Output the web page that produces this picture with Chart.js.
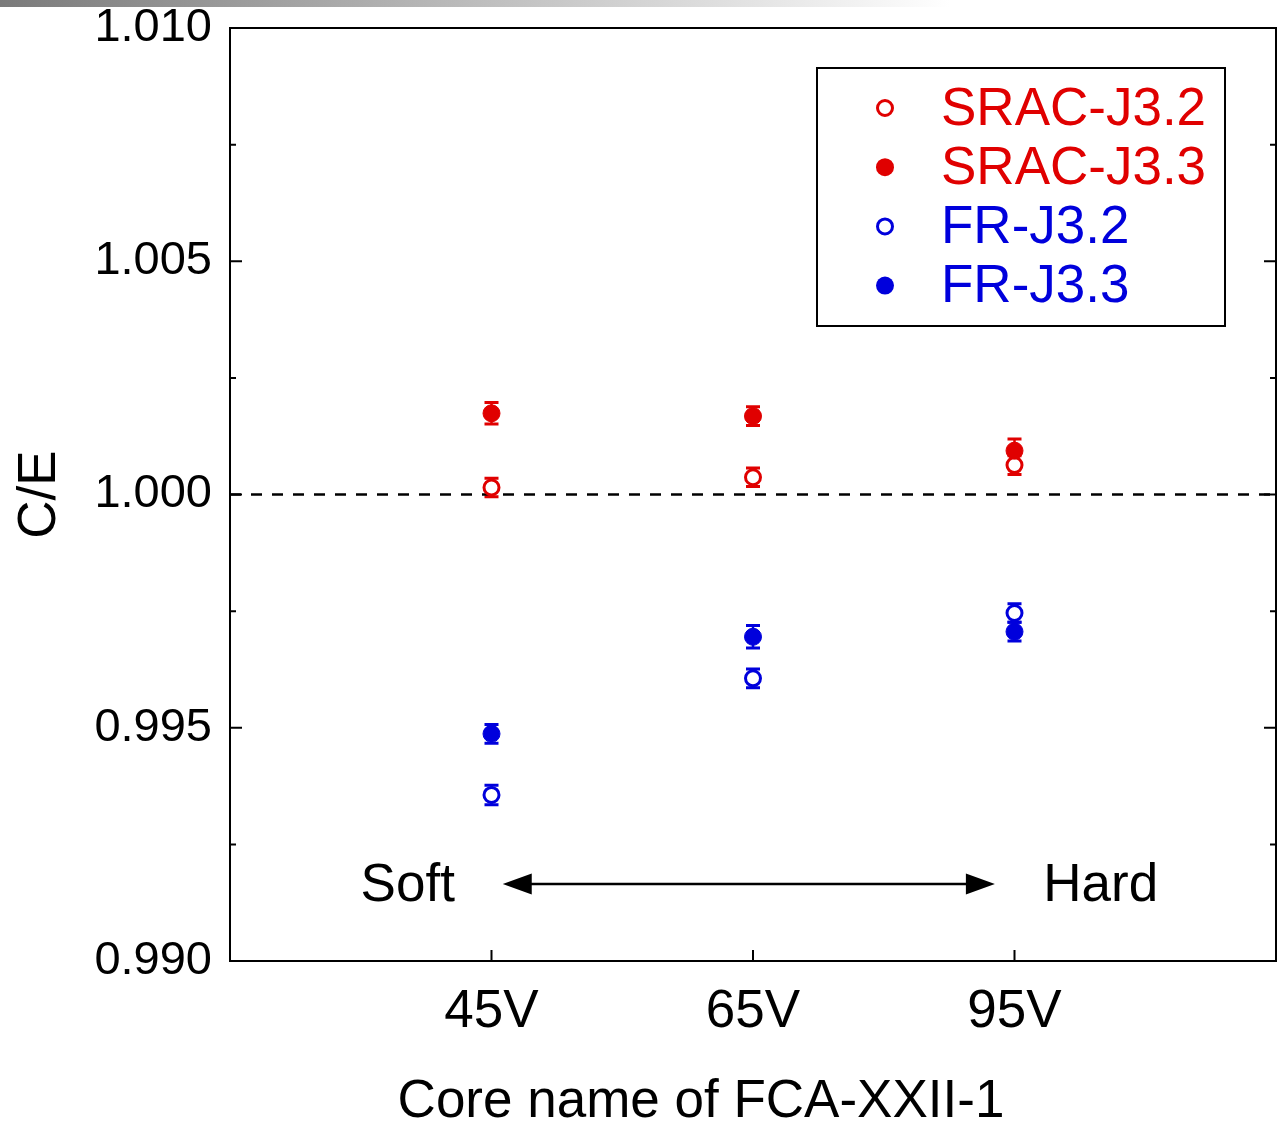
<!DOCTYPE html>
<html>
<head>
<meta charset="utf-8">
<script src="https://cdn.jsdelivr.net/npm/chart.js@4"></script>
<style>
  body { margin: 0; background: #fff; }
  #wrap { width: 1283px; height: 1123px; }
</style>
</head>
<body>
<div id="wrap"><canvas id="myChart" width="1283" height="1123"></canvas></div>
<script>
const FONT = "'Liberation Sans', Arial, sans-serif";
const RED = 'rgb(224,0,0)';
const BLUE = 'rgb(0,0,220)';

// categories on the x axis
const categories = ['45V', '65V', '95V'];
const coreX = [1, 2, 3];

// C/E values
const sracJ32 = [1.00015, 1.00037, 1.00063];
const sracJ33 = [1.00174, 1.00168, 1.00094];
const frJ32 = [0.99356, 0.99606, 0.99746];
const frJ33 = [0.99487, 0.99695, 0.99706];

// error bars (1 sigma)
const sracJ32Err = [0.0002, 0.0002, 0.0002];
const sracJ33Err = [0.00023, 0.0002, 0.00025];
const frJ32Err = [0.00021, 0.0002, 0.0002];
const frJ33Err = [0.0002, 0.00024, 0.0002];

// y ticks
const yMin = 0.990, yMax = 1.010, yMajor = 0.005, yMinor = 0.0025;

// Soft -> Hard arrow (data coords)
const arrowFrom = [1.043, 0.99165];
const arrowTo = [2.925, 0.99165];
const softAt = [0.86, 0.99165];
const hardAt = [3.11, 0.99165];

const xTitle = 'Core name of FCA-XXII-1';

const toPoints = ys => ys.map((y, i) => ({ x: coreX[i], y: y }));

//===============================================
const openDs = (label, ys, err, color) => ({
    label, data: toPoints(ys), err,
    pointRadius: 7.5, pointBorderWidth: 3,
    pointBackgroundColor: '#fff', pointBorderColor: color,
    borderColor: color, showLine: false, order: 1, legendOpen: true
});
const filledDs = (label, ys, err, color) => ({
    label, data: toPoints(ys), err,
    pointRadius: 8.5, pointBorderWidth: 1,
    pointBackgroundColor: color, pointBorderColor: color,
    borderColor: color, showLine: false, order: 0, legendOpen: false
});

const datasets = [
    openDs('SRAC-J3.2', sracJ32, sracJ32Err, RED),
    filledDs('SRAC-J3.3', sracJ33, sracJ33Err, RED),
    openDs('FR-J3.2', frJ32, frJ32Err, BLUE),
    filledDs('FR-J3.3', frJ33, frJ33Err, BLUE),
    {
        label: 'unity', data: [{ x: 0, y: 1 }, { x: 4, y: 1 }],
        type: 'line', borderColor: '#000', borderWidth: 2.5, borderDash: [11, 10],
        pointRadius: 0, order: 2, noLegend: true
    }
];

// error bars under the markers
const errorBars = {
    id: 'errorBars',
    beforeDatasetsDraw(chart) {
        const { ctx, scales: { x, y } } = chart;
        ctx.save();
        chart.data.datasets.forEach(ds => {
            if (!ds.err) return;
            ctx.strokeStyle = ds.borderColor;
            ds.data.forEach((p, i) => {
                const px = x.getPixelForValue(p.x);
                const top = y.getPixelForValue(p.y + ds.err[i]);
                const bot = y.getPixelForValue(p.y - ds.err[i]);
                ctx.lineWidth = 2.5;
                ctx.beginPath();
                ctx.moveTo(px, top); ctx.lineTo(px, bot);
                ctx.stroke();
                ctx.lineWidth = 3;
                ctx.beginPath();
                ctx.moveTo(px - 7, top); ctx.lineTo(px + 7, top);
                ctx.moveTo(px - 7, bot); ctx.lineTo(px + 7, bot);
                ctx.stroke();
            });
        });
        ctx.restore();
    }
};

// frame + inward ticks
const frame = {
    id: 'frame',
    afterDatasetsDraw(chart) {
        const { ctx, chartArea: a, scales: { x, y } } = chart;
        ctx.save();
        ctx.strokeStyle = '#000';
        ctx.lineWidth = 2;
        ctx.strokeRect(a.left, a.top, a.right - a.left, a.bottom - a.top);
        ctx.beginPath();
        const n = Math.round((yMax - yMin) / yMinor);
        for (let i = 0; i <= n; i++) {
            const py = y.getPixelForValue(yMin + i * yMinor);
            const len = i % Math.round(yMajor / yMinor) === 0 ? 12 : 6;
            ctx.moveTo(a.left, py); ctx.lineTo(a.left + len, py);
            ctx.moveTo(a.right, py); ctx.lineTo(a.right - len, py);
        }
        coreX.forEach(v => {
            const px = x.getPixelForValue(v);
            ctx.moveTo(px, a.bottom); ctx.lineTo(px, a.bottom - 11);
        });
        ctx.stroke();
        ctx.restore();
    }
};

// legend box, arrow, labels, x title, header strip
const extras = {
    id: 'extras',
    beforeDraw(chart) {
        const ctx = chart.ctx;
        ctx.save();
        ctx.fillStyle = '#fff';
        ctx.fillRect(0, 0, chart.width, chart.height);
        ctx.restore();
    },
    afterDraw(chart) {
        const { ctx, scales: { x, y } } = chart;
        ctx.save();

        // legend
        ctx.strokeStyle = '#000';
        ctx.lineWidth = 2;
        ctx.strokeRect(817, 68, 408, 258);
        ctx.font = `53px ${FONT}`;
        ctx.textBaseline = 'middle';
        ctx.textAlign = 'left';
        chart.data.datasets.filter(ds => !ds.noLegend).forEach((ds, i) => {
            const cy = 108 + i * 59.2;
            ctx.beginPath();
            if (ds.legendOpen) {
                ctx.arc(885, cy, 7.5, 0, Math.PI * 2);
                ctx.fillStyle = '#fff';
                ctx.fill();
                ctx.lineWidth = 3;
                ctx.strokeStyle = ds.borderColor;
                ctx.stroke();
            } else {
                ctx.arc(885, cy, 9, 0, Math.PI * 2);
                ctx.fillStyle = ds.borderColor;
                ctx.fill();
            }
            ctx.fillStyle = ds.borderColor;
            ctx.fillText(ds.label, 941, cy + 2);
        });

        // Soft <-> Hard arrow
        const x1 = x.getPixelForValue(arrowFrom[0]), y1 = y.getPixelForValue(arrowFrom[1]);
        const x2 = x.getPixelForValue(arrowTo[0]), y2 = y.getPixelForValue(arrowTo[1]);
        ctx.strokeStyle = '#000';
        ctx.fillStyle = '#000';
        ctx.lineWidth = 2.5;
        ctx.beginPath();
        ctx.moveTo(x1 + 20, y1); ctx.lineTo(x2 - 20, y2);
        ctx.stroke();
        ctx.beginPath();
        ctx.moveTo(x1, y1); ctx.lineTo(x1 + 29, y1 - 10.5); ctx.lineTo(x1 + 29, y1 + 10.5);
        ctx.closePath();
        ctx.moveTo(x2, y2); ctx.lineTo(x2 - 29, y2 - 10.5); ctx.lineTo(x2 - 29, y2 + 10.5);
        ctx.closePath();
        ctx.fill();

        ctx.font = `53px ${FONT}`;
        ctx.textBaseline = 'middle';
        ctx.textAlign = 'right';
        ctx.fillText('Soft', x.getPixelForValue(softAt[0]), y.getPixelForValue(softAt[1]) + 2);
        ctx.textAlign = 'left';
        ctx.fillText('Hard', x.getPixelForValue(hardAt[0]), y.getPixelForValue(hardAt[1]) + 2);

        // x axis title (sits left of the plot centre in the original)
        ctx.textAlign = 'center';
        ctx.fillText(xTitle, 701, 1102);

        // grey strip at the very top
        const g = ctx.createLinearGradient(0, 0, 950, 0);
        g.addColorStop(0, '#7a7a7a');
        g.addColorStop(1, '#ffffff');
        ctx.fillStyle = g;
        ctx.fillRect(0, 0, chart.width, 7);

        ctx.restore();
    }
};

const noPad = scale => {
    scale.paddingTop = 0; scale.paddingBottom = 0;
    scale.paddingLeft = 0; scale.paddingRight = 0;
};

//===============================================
const ctx1 = document.getElementById('myChart').getContext('2d');
const myChart = new Chart(ctx1, {
    type: 'scatter',
    data: { datasets },
    plugins: [errorBars, frame, extras],
    options: {
        responsive: false,
        animation: false,
        layout: { autoPadding: false, padding: { top: 28, right: 7, left: 0, bottom: 0 } },
        plugins: { legend: { display: false }, tooltip: { enabled: false } },
        scales: {
            x: {
                type: 'linear', min: 0, max: 4,
                afterBuildTicks: scale => { scale.ticks = coreX.map(v => ({ value: v })); },
                afterFit: scale => { scale.height = 162; noPad(scale); },
                grid: { display: false, drawTicks: false },
                border: { display: false },
                ticks: {
                    autoSkip: false, maxRotation: 0, padding: 20, color: '#000',
                    font: { family: FONT, size: 53 },
                    callback: v => categories[coreX.indexOf(v)] ?? ''
                }
            },
            y: {
                min: yMin, max: yMax,
                afterBuildTicks: scale => {
                    const n = Math.round((yMax - yMin) / yMajor);
                    scale.ticks = Array.from({ length: n + 1 }, (_, i) => ({ value: yMin + i * yMajor }));
                },
                afterFit: scale => { scale.width = 230; noPad(scale); },
                grid: { display: false, drawTicks: false },
                border: { display: false },
                ticks: {
                    padding: 18, color: '#000',
                    font: { family: FONT, size: 47 },
                    callback: v => v.toFixed(3)
                },
                title: {
                    display: true, text: 'C/E', color: '#000',
                    font: { family: FONT, size: 53 }, padding: { top: 9, bottom: 0 }
                }
            }
        }
    }
});
</script>
</body>
</html>
